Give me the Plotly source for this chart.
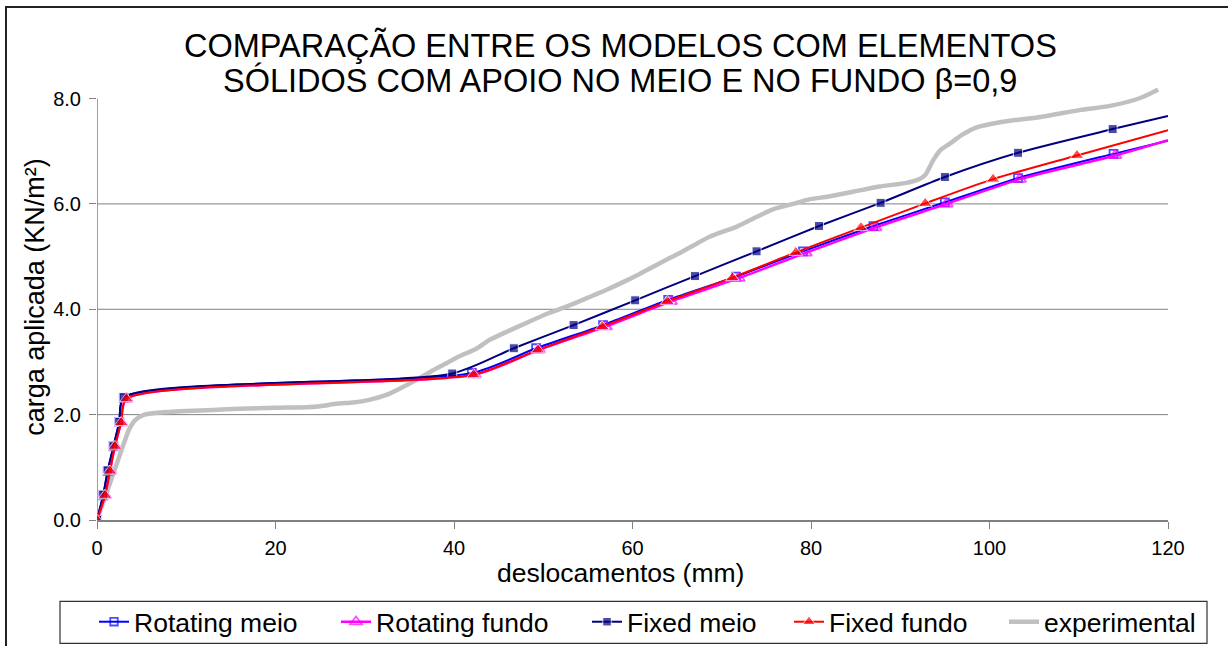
import plotly.graph_objects as go

# ---------------- data ----------------
fixed_meio_x = [0, 0.7, 1.2, 1.85, 2.5, 3.0, 39.8, 46.7, 53.4, 60.3, 67.0, 73.9, 80.9, 87.8, 95.0, 103.2, 113.8, 120]
fixed_meio_y = [0, 0.48, 0.94, 1.40, 1.86, 2.33, 2.78, 3.26, 3.70, 4.17, 4.63, 5.10, 5.58, 6.02, 6.51, 6.97, 7.42, 7.67]

fixed_fundo_x = [0, 0.9, 1.45, 2.0, 2.7, 3.3, 42.2, 49.4, 56.6, 63.9, 71.2, 78.3, 85.6, 92.8, 100.4, 109.8, 120]
fixed_fundo_y = [0, 0.47, 0.93, 1.40, 1.85, 2.30, 2.76, 3.23, 3.67, 4.15, 4.60, 5.08, 5.55, 6.01, 6.47, 6.92, 7.40]

rot_meio_x = [0, 0.7, 1.2, 1.85, 2.5, 3.0, 42.0, 49.2, 56.7, 64.0, 71.6, 79.1, 87.0, 95.0, 103.2, 113.9, 120]
rot_meio_y = [0, 0.47, 0.93, 1.40, 1.86, 2.32, 2.79, 3.26, 3.70, 4.18, 4.62, 5.10, 5.58, 6.03, 6.49, 6.95, 7.20]

rot_fundo_x = [0, 0.9, 1.45, 2.0, 2.7, 3.3, 42.3, 49.5, 57.0, 64.3, 71.9, 79.4, 87.2, 95.2, 103.4, 114.1, 120]
rot_fundo_y = [0, 0.47, 0.93, 1.40, 1.85, 2.30, 2.76, 3.23, 3.67, 4.15, 4.59, 5.07, 5.55, 6.00, 6.47, 6.92, 7.21]

exp_x = [0, 1.5, 3.0, 3.6, 4.3, 5.3, 7.0, 10.0, 13, 16, 20, 23.5, 25, 27, 28.7, 30.5, 32.5, 34, 35.8,
         37.5, 39.2, 40.5, 42.5, 44, 46, 48.1, 50.5, 52.6, 55, 57.1, 59, 60.8, 63, 65.3, 66.5, 68.7,
         71.7, 74, 75.8, 78, 79.9, 82, 84.7, 87.7, 90.7, 92, 92.8, 93.7, 94.5, 95.6, 97.0, 98.5,
         101.2, 105.7, 110.1, 113.5, 116.9, 118.9]
exp_y = [0, 0.72, 1.45, 1.72, 1.90, 2.00, 2.04, 2.07, 2.09, 2.11, 2.13, 2.14, 2.16, 2.21, 2.23, 2.28,
         2.38, 2.50, 2.66, 2.83, 2.98, 3.10, 3.25, 3.42, 3.58, 3.74, 3.92, 4.05, 4.22, 4.37, 4.52,
         4.67, 4.87, 5.07, 5.18, 5.38, 5.57, 5.76, 5.90, 6.00, 6.09, 6.14, 6.23, 6.33, 6.40, 6.46,
         6.55, 6.83, 7.02, 7.15, 7.32, 7.45, 7.55, 7.65, 7.78, 7.86, 8.01, 8.17]

x_ticks = [0, 20, 40, 60, 80, 100, 120]
y_ticks = [0, 2, 4, 6, 8]
y_grid = [2, 4, 6]

title_lines = ["COMPARAÇÃO ENTRE OS MODELOS COM ELEMENTOS",
               "SÓLIDOS COM APOIO NO MEIO E NO FUNDO β=0,9"]
x_title = "deslocamentos (mm)"
y_title = "carga aplicada (KN/m²)"

# ---------------- layout geometry ----------------
W, H = 1228, 646
ML, MR, MT, MB = 97, 60, 88, 125.5
PW, PH = W - ML - MR, H - MT - MB
FONT = "Arial, Liberation Sans, sans-serif"


def pxx(px):
    return (px - ML) / PW


def pyy(py):
    return (H - MB - py) / PH


def sizes(xs, s):
    # markers at every data point except the ones lying on the plot edge (x = 120)
    return [0 if x >= 120 else s for x in xs]


SMOOTH = 0.7
fig = go.Figure()

fig.add_trace(go.Scatter(x=exp_x, y=exp_y, name="experimental", mode="lines",
                         line=dict(color="#C0C0C0", width=4.5, shape="spline", smoothing=SMOOTH),
                         legend="legend5", hoverinfo="skip"))
fig.add_trace(go.Scatter(x=rot_meio_x, y=rot_meio_y, name="Rotating meio", mode="lines+markers",
                         line=dict(color="#0000FF", width=2, shape="spline", smoothing=SMOOTH),
                         marker=dict(symbol="square-open", size=sizes(rot_meio_x, 8), color="#0000FF",
                                     line=dict(width=1.8, color="#0000FF")),
                         legend="legend", hoverinfo="skip"))
fig.add_trace(go.Scatter(x=rot_fundo_x, y=rot_fundo_y, name="Rotating fundo", mode="lines+markers",
                         line=dict(color="#FF00FF", width=2.5, shape="spline", smoothing=SMOOTH),
                         marker=dict(symbol="triangle-up-open", size=sizes(rot_fundo_x, 11), color="#FF00FF",
                                     line=dict(width=1.8, color="#FF00FF")),
                         legend="legend2", hoverinfo="skip"))
fig.add_trace(go.Scatter(x=fixed_meio_x, y=fixed_meio_y, name="Fixed meio", mode="lines+markers",
                         line=dict(color="#000080", width=2, shape="spline", smoothing=SMOOTH),
                         marker=dict(symbol="square", size=sizes(fixed_meio_x, 9), color="#000080"),
                         legend="legend3", hoverinfo="skip"))
fig.add_trace(go.Scatter(x=fixed_fundo_x, y=fixed_fundo_y, name="Fixed fundo", mode="lines+markers",
                         line=dict(color="#FF0000", width=2, shape="spline", smoothing=SMOOTH),
                         marker=dict(symbol="triangle-up", size=sizes(fixed_fundo_x, 12), color="#FF0000"),
                         legend="legend4", hoverinfo="skip"))

# legends (one per entry so that spacing can follow the reference)
text_starts = [135, 377, 628, 830, 1045]
leg_names = ["legend", "legend2", "legend3", "legend4", "legend5"]
leg_cfg = {}
for nm, ts in zip(leg_names, text_starts):
    leg_cfg[nm] = dict(x=(ts - 41) / W, y=1 - 622 / H, xref="container", yref="container",
                       xanchor="left", yanchor="middle", orientation="h",
                       bgcolor="rgba(0,0,0,0)", borderwidth=0, visible=True,
                       font=dict(family=FONT, size=26.5, color="black"))

shapes = []
for g in y_grid:
    shapes.append(dict(type="line", xref="paper", yref="y", x0=0, x1=1, y0=g, y1=g,
                       line=dict(color="#808080", width=1), layer="below"))
# y axis line (0 .. 8 only)
shapes.append(dict(type="line", xref="x", yref="y", x0=0, x1=0, y0=y_ticks[0], y1=y_ticks[-1],
                   line=dict(color="#808080", width=1.5), layer="below"))
# chart border (right and bottom edges lie outside the picture)
shapes.append(dict(type="rect", xref="paper", yref="paper", x0=pxx(6), x1=pxx(1320), y0=pyy(7), y1=pyy(720),
                   line=dict(color="#222222", width=2), fillcolor="rgba(0,0,0,0)"))
# legend box
shapes.append(dict(type="rect", xref="paper", yref="paper", x0=pxx(60), x1=pxx(1207), y0=pyy(602), y1=pyy(644),
                   line=dict(color="#333333", width=1.2), fillcolor="rgba(0,0,0,0)"))

annotations = [
    dict(text=title_lines[0], xref="paper", yref="paper", x=pxx(620), y=pyy(45), showarrow=False,
         xanchor="center", yanchor="middle", font=dict(family=FONT, size=32.5, color="black")),
    dict(text=title_lines[1], xref="paper", yref="paper", x=pxx(620), y=pyy(80), showarrow=False,
         xanchor="center", yanchor="middle", font=dict(family=FONT, size=32.5, color="black")),
    dict(text=x_title, xref="paper", yref="paper", x=pxx(620), y=pyy(574), showarrow=False,
         xanchor="center", yanchor="middle", font=dict(family=FONT, size=26.5, color="black")),
    dict(text=y_title, xref="paper", yref="paper", x=pxx(35), y=pyy(297), showarrow=False, textangle=-90,
         xanchor="center", yanchor="middle", font=dict(family=FONT, size=27, color="black")),
]

fig.update_layout(
    width=W, height=H, showlegend=True, hovermode=False,
    margin=dict(l=ML, r=MR, t=MT, b=MB, pad=0, autoexpand=False),
    paper_bgcolor="white", plot_bgcolor="white",
    xaxis=dict(range=[0, 120], tickvals=x_ticks, ticktext=[str(v) for v in x_ticks],
               showgrid=False, zeroline=False, showline=True, linecolor="#808080", linewidth=1.5,
               ticks="outside", ticklen=7, tickcolor="#808080", tickwidth=1.2,
               tickfont=dict(family=FONT, size=20, color="black"), ticklabelstandoff=2),
    yaxis=dict(range=[0, 8.2], tickvals=y_ticks, ticktext=[f"{v:.1f}" for v in y_ticks],
               showgrid=False, zeroline=False, showline=False,
               ticks="outside", ticklen=7, tickcolor="#808080", tickwidth=1.2,
               tickfont=dict(family=FONT, size=20, color="black"), ticklabelstandoff=4),
    shapes=shapes, annotations=annotations,
    **leg_cfg,
)

fig.write_html("out.html", config={"displayModeBar": False},
               post_script="document.body.style.margin='0px';")
